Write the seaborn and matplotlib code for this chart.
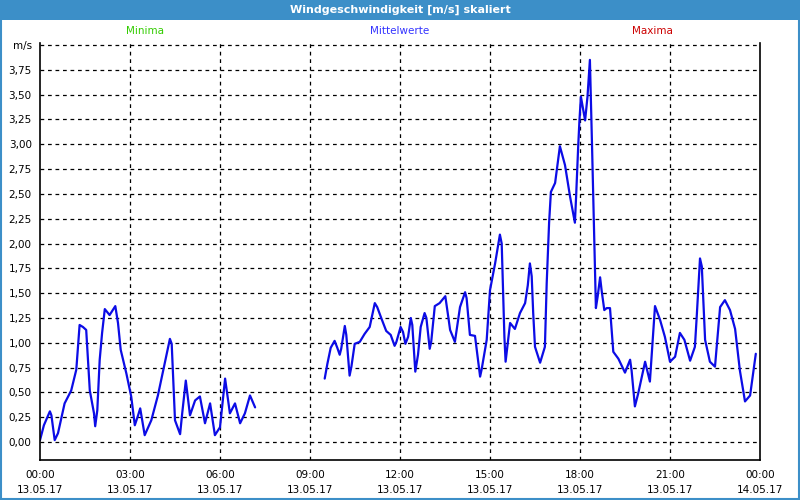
import matplotlib
matplotlib.use("Agg")
import matplotlib.pyplot as plt
import seaborn as sns
import pandas as pd
from matplotlib.patches import Rectangle

# ---------------- data ----------------
title = "Windgeschwindigkeit [m/s] skaliert"
header_labels = ["Minima", "Mittelwerte", "Maxima"]
header_colors = ["#33cc00", "#3333ff", "#cc0000"]
header_hours = [3.5, 12.0, 20.4]

x_tick_hours = [0, 3, 6, 9, 12, 15, 18, 21, 24]
x_tick_labels = ["00:00\n13.05.17", "03:00\n13.05.17", "06:00\n13.05.17",
                 "09:00\n13.05.17", "12:00\n13.05.17", "15:00\n13.05.17",
                 "18:00\n13.05.17", "21:00\n13.05.17", "00:00\n14.05.17"]
x_minor_hours = list(range(0, 25))
y_ticks = [0.0, 0.25, 0.5, 0.75, 1.0, 1.25, 1.5, 1.75, 2.0, 2.25, 2.5,
           2.75, 3.0, 3.25, 3.5, 3.75, 4.0]
y_tick_labels = ["0,00", "0,25", "0,50", "0,75", "1,00", "1,25", "1,50",
                 "1,75", "2,00", "2,25", "2,50", "2,75", "3,00", "3,25",
                 "3,50", "3,75", "m/s"]

seg1_hours = [0.0, 0.13, 0.33, 0.38, 0.49, 0.60, 0.82, 1.04, 1.21, 1.32,
              1.43, 1.54, 1.66, 1.80, 1.84, 1.91, 1.99, 2.07, 2.16, 2.32,
              2.51, 2.60, 2.69, 2.88, 3.04, 3.16, 3.27, 3.34, 3.49, 3.71,
              3.93, 4.33, 4.39, 4.50, 4.67, 4.74, 4.86, 5.00, 5.17, 5.33,
              5.50, 5.67, 5.83, 6.00, 6.17, 6.33, 6.50, 6.67, 6.83, 7.00,
              7.17]
seg1_values = [0.02, 0.17, 0.31, 0.27, 0.02, 0.09, 0.39, 0.52, 0.73, 1.18,
               1.16, 1.13, 0.52, 0.29, 0.16, 0.32, 0.83, 1.10, 1.34, 1.28,
               1.37, 1.20, 0.93, 0.69, 0.46, 0.17, 0.27, 0.34, 0.07, 0.22,
               0.47, 1.04, 0.99, 0.22, 0.08, 0.29, 0.62, 0.27, 0.42, 0.46,
               0.19, 0.39, 0.07, 0.15, 0.64, 0.29, 0.39, 0.19, 0.29, 0.47,
               0.35]

seg2_hours = [9.49, 9.58, 9.69, 9.82, 9.91, 9.99, 10.04, 10.16, 10.21, 10.32,
              10.38, 10.49, 10.66, 10.82, 10.99, 11.16, 11.24, 11.40, 11.54,
              11.69, 11.82, 11.88, 12.02, 12.10, 12.18, 12.27, 12.36, 12.41,
              12.51, 12.60, 12.69, 12.82, 12.88, 12.99, 13.04, 13.16, 13.32,
              13.51, 13.61, 13.67, 13.83, 14.00, 14.17, 14.22, 14.33, 14.50,
              14.67, 14.72, 14.89, 15.00, 15.17, 15.33, 15.39, 15.48, 15.52,
              15.67, 15.83, 16.00, 16.17, 16.26, 16.33, 16.39, 16.44, 16.50,
              16.67, 16.83, 16.89, 16.97, 17.03, 17.17, 17.33, 17.50, 17.67,
              17.83, 17.87, 17.94, 17.98, 18.03, 18.17, 18.25, 18.33, 18.40,
              18.53, 18.59, 18.67, 18.72, 18.81, 18.89, 19.00, 19.11, 19.28,
              19.50, 19.67, 19.72, 19.83, 19.94, 20.17, 20.33, 20.50, 20.67,
              20.83, 21.00, 21.17, 21.33, 21.48, 21.67, 21.83, 21.89, 22.00,
              22.06, 22.17, 22.33, 22.50, 22.67, 22.83, 23.00, 23.17, 23.33,
              23.50, 23.67, 23.86]
seg2_values = [0.64, 0.79, 0.95, 1.02, 0.95, 0.88, 0.94, 1.17, 1.08, 0.67,
               0.76, 0.99, 1.01, 1.09, 1.16, 1.40, 1.36, 1.23, 1.12,
               1.08, 0.97, 1.01, 1.16, 1.11, 0.99, 1.06, 1.25, 1.18,
               0.71, 0.88, 1.16, 1.30, 1.25, 0.94, 1.01, 1.37, 1.40,
               1.47, 1.26, 1.13, 1.01, 1.36, 1.51, 1.45, 1.08, 1.07,
               0.66, 0.73, 1.03, 1.53, 1.80, 2.09, 2.00, 1.06, 0.81,
               1.20, 1.14, 1.30, 1.40, 1.58, 1.80, 1.67, 1.30, 0.96,
               0.80, 0.96, 1.60, 2.21, 2.52, 2.61, 2.98, 2.79, 2.47,
               2.21, 2.47, 2.98, 3.23, 3.48, 3.24, 3.48, 3.85, 3.00,
               1.35, 1.47, 1.66, 1.53, 1.33, 1.35, 1.35, 0.91, 0.84,
               0.70, 0.83, 0.72, 0.36, 0.49, 0.81, 0.61, 1.37, 1.23,
               1.06, 0.81, 0.86, 1.10, 1.03, 0.82, 0.96, 1.26, 1.85,
               1.77, 1.03, 0.81, 0.76, 1.36, 1.43, 1.33, 1.14, 0.72,
               0.41, 0.47, 0.89]

df = pd.concat([
    pd.DataFrame({"hour": seg1_hours, "value": seg1_values, "seg": 1}),
    pd.DataFrame({"hour": seg2_hours, "value": seg2_values, "seg": 2}),
], ignore_index=True)

# ---------------- figure ----------------
sns.set_style("white")
plt.rcParams["font.family"] = ["DejaVu Sans"]

fig = plt.figure(figsize=(8, 5), dpi=100)
fig.patch.set_facecolor("white")
ax = fig.add_axes([0.05, 0.08, 0.90, 0.834])
ax.set_facecolor("white")

line_color = "#0c0ce6"
sns.lineplot(data=df, x="hour", y="value", units="seg", estimator=None,
             color=line_color, linewidth=1.6, ax=ax, legend=False)

ax.set_xlim(0, 24)
ax.set_ylim(-0.18, 4.02)

ax.set_xticks(x_tick_hours)
ax.set_xticklabels(x_tick_labels, fontsize=7.5, linespacing=1.55)
ax.set_xticks(x_minor_hours, minor=True)
ax.set_yticks(y_ticks)
ax.set_yticklabels(y_tick_labels, fontsize=7.5)

ax.tick_params(axis="x", which="major", direction="out", length=5, width=0.8,
               pad=2.5, colors="black")
ax.tick_params(axis="x", which="minor", direction="out", length=3, width=0.8)
ax.tick_params(axis="y", which="major", direction="out", length=3, width=0.8,
               pad=3, colors="black")

ax.set_xlabel("")
ax.set_ylabel("")

# dashed grid
for h in x_tick_hours[1:-1]:
    ax.axvline(h, color="black", linestyle=(0, (3, 3)), linewidth=0.9, zorder=0)
for y in y_ticks:
    ax.axhline(y, color="black", linestyle=(0, (3, 3)), linewidth=0.9, zorder=0)

for side in ["left", "bottom", "right"]:
    ax.spines[side].set_visible(True)
    ax.spines[side].set_color("black")
    ax.spines[side].set_linewidth(1.2)
ax.spines["top"].set_visible(False)

# header labels (Minima / Mittelwerte / Maxima)
for lab, col, h in zip(header_labels, header_colors, header_hours):
    ax.text(h, 1.0 + 0.028, lab, color=col, fontsize=7.5, ha="center",
            va="center", transform=ax.get_xaxis_transform())

# window frame + title bar
frame_color = "#3c8fc8"
fig.patches.append(Rectangle((0, 0.96), 1, 0.04, transform=fig.transFigure,
                             facecolor=frame_color, edgecolor="none", zorder=-1))
fig.patches.append(Rectangle((0.001, 0.002), 0.998, 0.996, transform=fig.transFigure,
                             facecolor="none", edgecolor=frame_color, linewidth=1.5,
                             zorder=10))
fig.text(0.5, 0.98, title, color="white", fontsize=8, fontweight="bold",
         ha="center", va="center")

fig.savefig("out.png", dpi=100, facecolor=fig.get_facecolor())
